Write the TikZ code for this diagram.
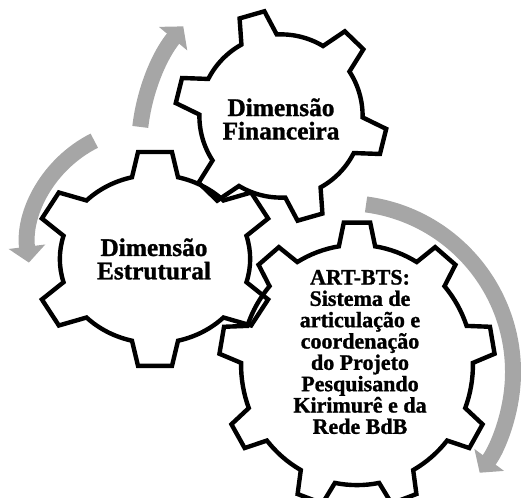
\documentclass[tikz,border=0pt]{standalone}
\usepackage{fontspec}
\setmainfont{Liberation Serif}[BoldFeatures={FakeBold=1.2}]
\usetikzlibrary{arrows.meta}

\definecolor{arrowgray}{RGB}{166,166,166}

\tikzset{
  gearline/.style={draw=black, line width=3.3pt, line join=miter},
  turnarrow/.style={draw=arrowgray, line width=12pt, -{Triangle[width=27pt,length=12pt]}},
  geartext/.style={text=black, align=center, font=\bfseries\fontsize{19}{17.5}\selectfont}
}

% gear outline: teeth, inner radius, outer half angle, base half angle, first tooth
\newcommand{\gear}[5]{%
  \draw[gearline] ({#5+#4}:#2) \foreach \k in {1,...,#1}{
    arc[start angle={#5+#4+(\k-1)*360/#1}, end angle={#5-#4+\k*360/#1}, radius=#2]
    -- ({#5-#3+\k*360/#1}:1) -- ({#5+#3+\k*360/#1}:1) -- ({#5+#4+\k*360/#1}:#2)
  } -- cycle;}

\begin{document}
\begin{tikzpicture}[x=0.75pt, y=0.75pt]
\useasboundingbox (0,0) rectangle (521,498);

% arrows
\draw[turnarrow] (344,126) ++(82.5:169) arc[start angle=82.5, end angle=-36.6, radius=169];
\draw[turnarrow] (331,349) ++(173.4:192) arc[start angle=173.4, end angle=140.3, radius=192];
\draw[turnarrow] (148,250) ++(116.6:120) arc[start angle=116.6, end angle=187, radius=120];

% gears
\begin{scope}[shift={(155,239)}, xscale=122, yscale=108]
  \gear{6}{0.78}{8}{14}{90}
\end{scope}
\begin{scope}[shift={(281,382)}, rotate=16, scale=106]
  \gear{6}{0.77}{7}{13}{90}
\end{scope}
\begin{scope}[shift={(357,133)}, xscale=138, yscale=143]
  \gear{9}{0.84}{5.5}{9}{90}
\end{scope}

\node[geartext] (fin) at (281,379) {Dimensão\\Financeira};
\node[geartext] (est) at (154,239) {Dimensão\\Estrutural};
\node[geartext, font=\bfseries\fontsize{16.5}{16}\selectfont] (art) at (360,146)
  {ART-BTS:\\Sistema de\\articulação e\\coordenação\\do Projeto\\Pesquisando\\Kirimurê e da\\Rede BdB};
\end{tikzpicture}
\end{document}
